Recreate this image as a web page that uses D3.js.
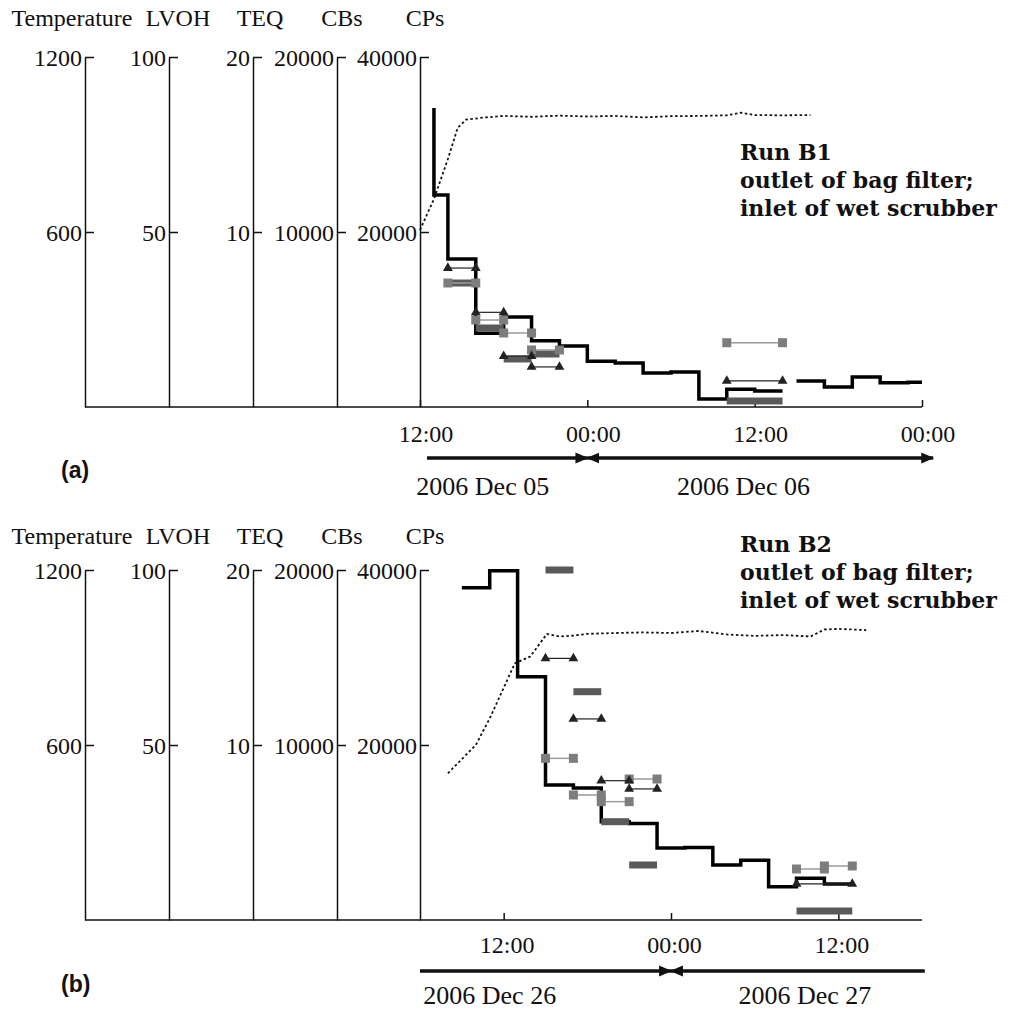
<!DOCTYPE html>
<html>
<head>
<meta charset="utf-8">
<script src="https://d3js.org/d3.v7.min.js"></script>
<style>
  body { margin: 0; background: #fff; }
  svg { display: block; }
  .serif { font-family: 'Liberation Serif', 'Times New Roman', serif; fill: #111; }
  .axis text { font-family: 'Liberation Serif', 'Times New Roman', serif; font-size: 24px; fill: #111; }
  .axis line, .axis path { stroke: #111; stroke-width: 1.5; }
  .note { font-family: 'DejaVu Serif', serif; font-weight: bold; font-size: 22px; fill: #111; }
  .letter { font-family: 'Liberation Sans', Arial, sans-serif; font-weight: bold; font-size: 23px; fill: #111; }
</style>
</head>
<body>
<div id="chart"></div>
<script>
// shared vertical axes
const axisNames = ["Temperature", "LVOH", "TEQ", "CBs", "CPs"];
const axisMax = [1200, 100, 20, 20000, 40000];
const axisTicks = [[600, 1200], [50, 100], [10, 20], [10000, 20000], [20000, 40000]];

// Run B1 -- hours counted from 2006 Dec 05 00:00
const b1Ticks = [12, 24, 36, 48];
const b1Temperature = [[12, 607], [13, 713], [14, 850], [14.7, 957], [15.3, 985], [16.5, 992], [18, 998],
  [20, 995], [22, 999], [24, 996], [26, 998], [28, 993], [30, 997], [32, 998], [34, 1000], [35, 1009],
  [36, 1001], [38, 1000], [40, 1001]];
const b1Lvoh = [[13, 85.4], [13, 60.6], [14, 42.3], [16, 21.1], [18, 25.7], [20, 18.9], [22, 17.4],
  [24, 13.1], [26, 12.6], [28, 9.7], [30, 10], [32, 2.3], [34, 5.1], [36, 4.6], [38, 4.6]];
const b1Lvoh2 = [[39, 7.4], [41, 5.7], [43, 8.6], [45, 6.9], [47, 7.1], [48, 7.1]];
const b1Teq = [[14, 16, 7.94], [16, 18, 5.41], [18, 20, 2.91], [20, 22, 2.29], [34, 38, 1.49]];
const b1Cbs = [[14, 16, 7086], [16, 18, 4971], [18, 20, 4229], [20, 22, 3257], [34, 38, 3674]];
const b1Cps = [[14, 16, 14171], [16, 18, 9029], [18, 20, 5486], [20, 22, 6057], [34, 38, 686]];
const b1Dates = [[16.5, "2006 Dec 05"], [35.2, "2006 Dec 06"]];

// Run B2 -- hours counted from 2006 Dec 26 00:00
const b2Ticks = [12, 24, 36];
const b2Temperature = [[8, 503], [10, 600], [11, 691], [12.8, 880], [13.9, 903], [15.1, 981], [16, 972],
  [17, 975], [18, 981], [20, 984], [22, 986], [24, 984], [26, 991], [28, 979], [30, 974], [32, 977],
  [34, 972], [35, 996], [36, 998], [38, 994]];
const b2Lvoh = [[9, 94.9], [11, 99.8], [13, 69.5], [15, 38.6], [17, 37.7], [19, 28.1], [21, 27.6],
  [23, 20.6], [25, 20.7], [27, 15.7], [29, 17.1], [31, 9.5], [33, 11.9], [35, 10.3], [37, 10.3]];
const b2Teq = [[15, 17, 14.95], [17, 19, 11.49], [19, 21, 7.96], [21, 23, 7.49], [33, 37, 2.06]];
const b2Cbs = [[15, 17, 9238], [17, 19, 7143], [19, 21, 6762], [21, 23, 8057], [33, 35, 2914], [35, 37, 3086]];
const b2Cps = [[15, 17, 40000], [17, 19, 26091], [19, 21, 11234], [21, 23, 6286], [33, 37, 1029]];
const b2Dates = [[11, "2006 Dec 26"], [33.6, "2006 Dec 27"]];

const W = 1011, H = 1012;
const axisX = [85, 169, 253, 337, 420];
const headerX = [72, 178, 260, 342, 425];
const plotRight = 922;

const panels = [
  { day: 5, hours: [12, 48], ticks: b1Ticks, top: 57, bottom: 407, headerY: 26, tickPad: 18, tickDx: 5.5,
    arrowY: 458, arrows: [[12.5, 24, false, true], [24, 48.8, true, true]], dateY: 495, letter: "(a)", letterY: 478,
    run: "Run B1", runY: 160, temperature: b1Temperature, lvoh: [b1Lvoh, b1Lvoh2], teq: b1Teq, cbs: b1Cbs,
    cps: b1Cps, dates: b1Dates },
  { day: 26, hours: [6, 42], ticks: b2Ticks, top: 570, bottom: 920, headerY: 544, tickPad: 16, tickDx: 3,
    arrowY: 971, arrows: [[6, 24, false, true], [24, 42.2, true, false]], dateY: 1004, letter: "(b)", letterY: 992,
    run: "Run B2", runY: 552, temperature: b2Temperature, lvoh: [b2Lvoh], teq: b2Teq, cbs: b2Cbs,
    cps: b2Cps, dates: b2Dates }
];

const svg = d3.select("#chart").append("svg").attr("width", W).attr("height", H);

svg.append("defs").append("marker")
  .attr("id", "head")
  .attr("viewBox", "0 0 12 12")
  .attr("refX", 11).attr("refY", 6)
  .attr("markerWidth", 13).attr("markerHeight", 13)
  .attr("markerUnits", "userSpaceOnUse")
  .attr("orient", "auto-start-reverse")
  .append("path").attr("d", "M0,1L12,6L0,11z").attr("fill", "#111");

panels.forEach(p => {
  const g = svg.append("g");
  const hour = h => new Date(2006, 11, p.day, 0, h * 60);
  const x = d3.scaleTime().domain(p.hours.map(hour)).range([axisX[4], plotRight]);
  const ys = axisMax.map(m => d3.scaleLinear().domain([0, m]).range([p.bottom, p.top]));

  // vertical axes
  axisNames.forEach((name, i) => {
    g.append("g").attr("class", "axis")
      .attr("transform", `translate(${axisX[i]},0)`)
      .call(d3.axisLeft(ys[i]).tickValues(axisTicks[i]).tickFormat(d3.format("d"))
        .tickSizeInner(-9).tickSizeOuter(0).tickPadding(3))
      .call(a => a.selectAll("text").attr("dy", "0.34em"));
    g.append("text").attr("class", "serif")
      .attr("x", headerX[i]).attr("y", p.headerY)
      .attr("text-anchor", "middle").attr("font-size", 24)
      .text(name);
  });

  // time axis
  g.append("line")
    .attr("x1", axisX[0]).attr("x2", plotRight)
    .attr("y1", p.bottom).attr("y2", p.bottom)
    .attr("stroke", "#111").attr("stroke-width", 1.5);
  g.append("g").attr("class", "axis")
    .attr("transform", `translate(0,${p.bottom})`)
    .call(d3.axisBottom(x).tickValues(p.ticks.map(hour)).tickFormat(d3.timeFormat("%H:%M"))
      .tickSizeInner(-7).tickSizeOuter(0).tickPadding(p.tickPad))
    .call(a => a.select(".domain").remove())
    .call(a => a.selectAll("text").attr("font-size", 25).attr("dx", p.tickDx));

  // temperature (dotted)
  g.append("path")
    .datum(p.temperature)
    .attr("fill", "none").attr("stroke", "#111").attr("stroke-width", 1.8)
    .attr("stroke-dasharray", "2.5,2.5")
    .attr("d", d3.line().x(d => x(hour(d[0]))).y(d => ys[0](d[1])));

  // LVOH step line
  const step = d3.line().curve(d3.curveStepAfter).x(d => x(hour(d[0]))).y(d => ys[1](d[1]));
  p.lvoh.forEach(seg => {
    g.append("path").datum(seg)
      .attr("fill", "none").attr("stroke", "#000").attr("stroke-width", 3.5)
      .attr("d", step);
  });

  // CPs bars
  g.selectAll(".cps").data(p.cps).join("rect")
    .attr("x", d => x(hour(d[0])))
    .attr("width", d => x(hour(d[1])) - x(hour(d[0])))
    .attr("y", d => ys[4](d[2]) - 3.5)
    .attr("height", 7)
    .attr("fill", "#5a5a5a");

  // CBs squares
  const cbs = g.selectAll(".cbs").data(p.cbs).join("g");
  cbs.append("line")
    .attr("x1", d => x(hour(d[0]))).attr("x2", d => x(hour(d[1])))
    .attr("y1", d => ys[3](d[2])).attr("y2", d => ys[3](d[2]))
    .attr("stroke", "#9a9a9a").attr("stroke-width", 1.5);
  cbs.selectAll("rect").data(d => [[d[0], d[2]], [d[1], d[2]]]).join("rect")
    .attr("x", d => x(hour(d[0])) - 4.5).attr("y", d => ys[3](d[1]) - 4.5)
    .attr("width", 9).attr("height", 9)
    .attr("fill", "#7d7d7d");

  // TEQ triangles
  const tri = d3.symbol().type(d3.symbolTriangle).size(42);
  const teq = g.selectAll(".teq").data(p.teq).join("g");
  teq.append("line")
    .attr("x1", d => x(hour(d[0]))).attr("x2", d => x(hour(d[1])))
    .attr("y1", d => ys[2](d[2])).attr("y2", d => ys[2](d[2]))
    .attr("stroke", "#222").attr("stroke-width", 1.2);
  teq.selectAll("path").data(d => [[d[0], d[2]], [d[1], d[2]]]).join("path")
    .attr("transform", d => `translate(${x(hour(d[0]))},${ys[2](d[1])})`)
    .attr("d", tri)
    .attr("fill", "#222");

  // date arrows and labels
  p.arrows.forEach(([a, b, s, e]) => {
    g.append("line")
      .attr("x1", x(hour(a))).attr("x2", x(hour(b)))
      .attr("y1", p.arrowY).attr("y2", p.arrowY)
      .attr("stroke", "#111").attr("stroke-width", 3.5)
      .attr("marker-start", s ? "url(#head)" : null)
      .attr("marker-end", e ? "url(#head)" : null);
  });
  p.dates.forEach(([h, label]) => {
    g.append("text").attr("class", "serif")
      .attr("x", x(hour(h))).attr("y", p.dateY)
      .attr("text-anchor", "middle").attr("font-size", 26)
      .text(label);
  });

  g.append("text").attr("class", "letter").attr("x", 61).attr("y", p.letterY).text(p.letter);

  [p.run, "outlet of bag filter;", "inlet of wet scrubber"].forEach((t, i) => {
    g.append("text").attr("class", "note").attr("x", 740).attr("y", p.runY + i * 28).text(t);
  });
});
</script>
</body>
</html>
